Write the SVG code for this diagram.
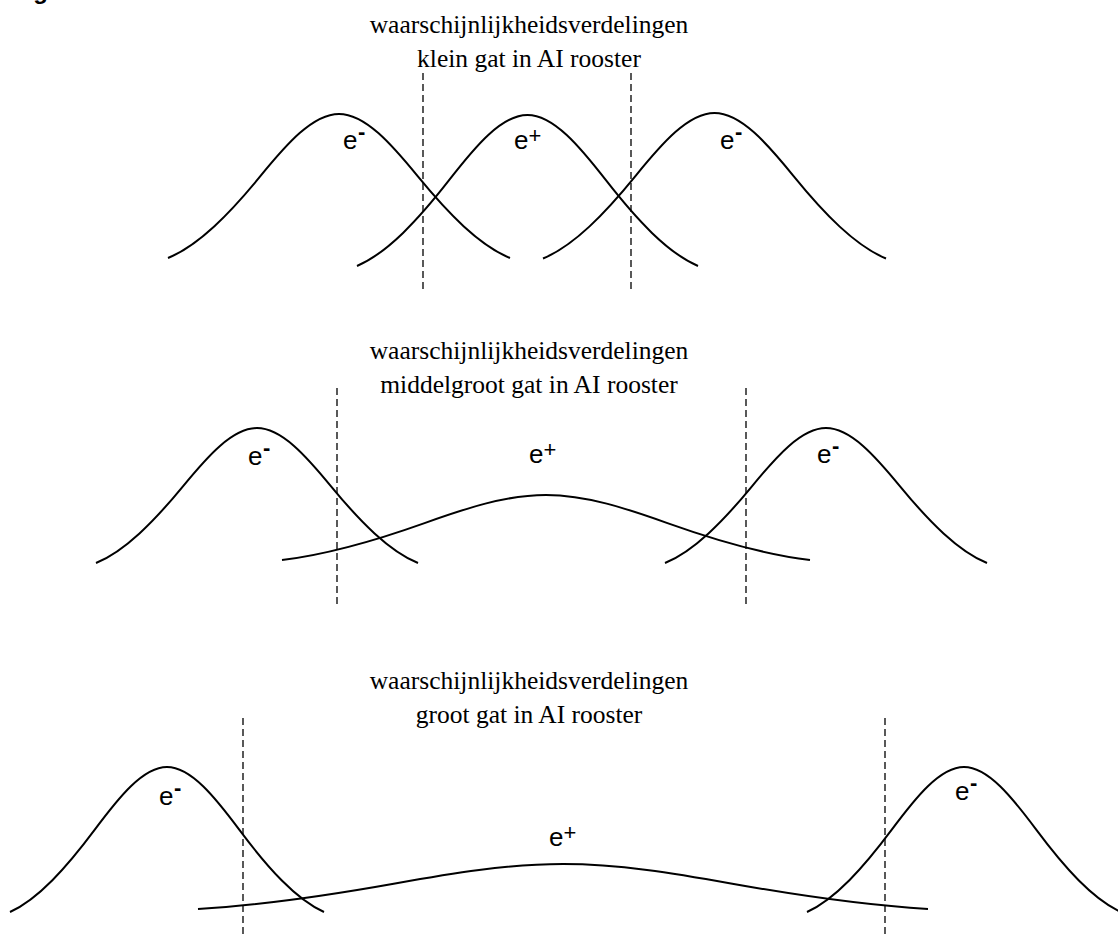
<svg xmlns="http://www.w3.org/2000/svg" width="1118" height="934" viewBox="0 0 1118 934">
<style>
.bg{fill:#fff}
.bell{fill:none;stroke:#000;stroke-width:2;vector-effect:non-scaling-stroke}
.dash{stroke:#000;stroke-width:1.3;stroke-dasharray:7 4;fill:none}
.title{font-family:"Liberation Serif","Times New Roman",serif;font-size:25.5px;fill:#000;text-anchor:middle}
.lbl{font-family:"Liberation Sans",Arial,sans-serif;font-size:26px;fill:#000}
.sup{font-family:"Liberation Sans",Arial,sans-serif;font-size:22px;fill:#000}
.minus{font-weight:bold}
.fig{font-family:"Liberation Sans",Arial,sans-serif;font-size:24px;font-weight:bold;fill:#000}
</style>
<rect class="bg" x="0" y="0" width="1118" height="934"/>
<text class="fig" x="12" y="-1">Figure</text>

<g id="panel-small">
  <g id="title-small">
    <text class="title" x="529" y="33">waarschijnlijkheidsverdelingen</text>
    <text class="title" x="529" y="67">klein gat in AI rooster</text>
  </g>
  <g id="curves-small">
    <path class="bell" d="M-1,0 C-0.82,0.088 -0.64,0.307 -0.46,0.568 C-0.307,0.79 -0.153,1 0,1 C0.153,1 0.307,0.79 0.46,0.568 C0.64,0.307 0.82,0.088 1,0" transform="translate(339 258) scale(171 -144)"/>
    <path class="bell" d="M-1,0 C-0.82,0.088 -0.64,0.307 -0.46,0.568 C-0.307,0.79 -0.153,1 0,1 C0.153,1 0.307,0.79 0.46,0.568 C0.64,0.307 0.82,0.088 1,0" transform="translate(527.5 266) scale(170.5 -151)"/>
    <path class="bell" d="M-1,0 C-0.82,0.088 -0.64,0.307 -0.46,0.568 C-0.307,0.79 -0.153,1 0,1 C0.153,1 0.307,0.79 0.46,0.568 C0.64,0.307 0.82,0.088 1,0" transform="translate(714.5 258.5) scale(171.5 -145.5)"/>
  </g>
  <g id="labels-small">
    <text class="lbl" x="343" y="149">e</text><text class="sup minus" x="358" y="139">-</text>
    <text class="lbl" x="514" y="149">e</text><text class="sup" x="528.5" y="143">+</text>
    <text class="lbl" x="720" y="149">e</text><text class="sup minus" x="735" y="139">-</text>
  </g>
</g>

<g id="panel-medium">
  <g id="title-medium">
    <text class="title" x="529" y="359">waarschijnlijkheidsverdelingen</text>
    <text class="title" x="529" y="393">middelgroot gat in AI rooster</text>
  </g>
  <g id="curves-medium">
    <path class="bell" d="M-1,0 C-0.82,0.088 -0.64,0.307 -0.46,0.568 C-0.307,0.79 -0.153,1 0,1 C0.153,1 0.307,0.79 0.46,0.568 C0.64,0.307 0.82,0.088 1,0" transform="translate(257 563) scale(161 -135)"/>
    <path class="bell" d="M-1,0 C-0.82,0.088 -0.64,0.307 -0.46,0.568 C-0.307,0.79 -0.153,1 0,1 C0.153,1 0.307,0.79 0.46,0.568 C0.64,0.307 0.82,0.088 1,0" transform="translate(546 560) scale(264 -65)"/>
    <path class="bell" d="M-1,0 C-0.82,0.088 -0.64,0.307 -0.46,0.568 C-0.307,0.79 -0.153,1 0,1 C0.153,1 0.307,0.79 0.46,0.568 C0.64,0.307 0.82,0.088 1,0" transform="translate(826 563) scale(161 -135)"/>
  </g>
  <g id="labels-medium">
    <text class="lbl" x="248" y="465">e</text><text class="sup minus" x="263" y="455">-</text>
    <text class="lbl" x="529" y="463">e</text><text class="sup" x="543.5" y="457">+</text>
    <text class="lbl" x="817" y="463">e</text><text class="sup minus" x="832" y="453">-</text>
  </g>
</g>

<g id="panel-large">
  <g id="title-large">
    <text class="title" x="529" y="689">waarschijnlijkheidsverdelingen</text>
    <text class="title" x="529" y="723">groot gat in AI rooster</text>
  </g>
  <g id="curves-large">
    <path class="bell" d="M-1,0 C-0.82,0.088 -0.64,0.307 -0.46,0.568 C-0.307,0.79 -0.153,1 0,1 C0.153,1 0.307,0.79 0.46,0.568 C0.64,0.307 0.82,0.088 1,0" transform="translate(167 912) scale(157 -145)"/>
    <path class="bell" d="M-1,0 C-0.82,0.088 -0.64,0.307 -0.46,0.568 C-0.307,0.79 -0.153,1 0,1 C0.153,1 0.307,0.79 0.46,0.568 C0.64,0.307 0.82,0.088 1,0" transform="translate(563 909) scale(365 -45)"/>
    <path class="bell" d="M-1,0 C-0.82,0.088 -0.64,0.307 -0.46,0.568 C-0.307,0.79 -0.153,1 0,1 C0.153,1 0.307,0.79 0.46,0.568 C0.64,0.307 0.82,0.088 1,0" transform="translate(964 912) scale(157 -145)"/>
  </g>
  <g id="labels-large">
    <text class="lbl" x="159" y="805">e</text><text class="sup minus" x="174" y="795">-</text>
    <text class="lbl" x="549" y="846">e</text><text class="sup" x="563.5" y="840">+</text>
    <text class="lbl" x="955" y="800">e</text><text class="sup minus" x="970" y="790">-</text>
  </g>
</g>

<g id="connectors">
  <line class="dash" x1="423" y1="73" x2="423" y2="292"/>
  <line class="dash" x1="631" y1="73" x2="631" y2="292"/>
  <line class="dash" x1="337" y1="388" x2="337" y2="607"/>
  <line class="dash" x1="746" y1="388" x2="746" y2="607"/>
  <line class="dash" x1="243" y1="718" x2="243" y2="934"/>
  <line class="dash" x1="885" y1="718" x2="885" y2="934"/>
</g>
</svg>
